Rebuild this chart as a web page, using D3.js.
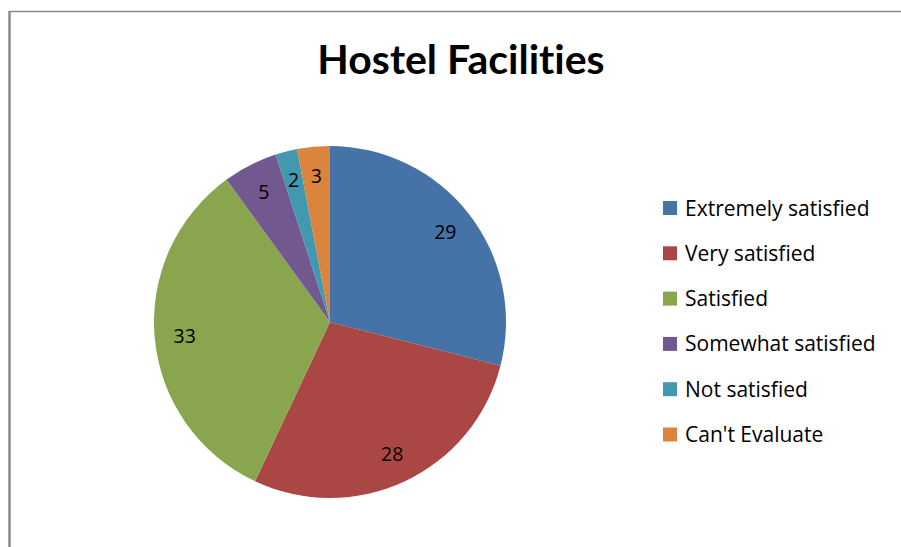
<!DOCTYPE html>
<html>
<head>
<meta charset="utf-8">
<script src="https://cdn.jsdelivr.net/npm/d3@7"></script>
<style>
  body { margin: 0; background: #fff; }
  svg { display: block; }
  text { font-variant-ligatures: none; font-feature-settings: "liga" 0, "clig" 0; }
</style>
</head>
<body>
<div id="chart"></div>
<script>
// data
var categories = ["Extremely satisfied", "Very satisfied", "Satisfied", "Somewhat satisfied", "Not satisfied", "Can't Evaluate"];
var values = [29, 28, 33, 5, 2, 3];
var colors = ["#4572A7", "#AA4643", "#89A54E", "#71588F", "#4198AF", "#DB843D"];
var title = "Hostel Facilities";

var W = 901, H = 547;
var cx = 330, cy = 322, r = 176;

var svg = d3.select("#chart").append("svg")
    .attr("width", W)
    .attr("height", H);

// frame (only top and left edges visible in the crop)
svg.append("line")
    .attr("x1", 9).attr("y1", 11.5).attr("x2", W).attr("y2", 11.5)
    .attr("stroke", "#8a8a8a").attr("stroke-width", 1.5);
svg.append("line")
    .attr("x1", 9.5).attr("y1", 11).attr("x2", 9.5).attr("y2", H)
    .attr("stroke", "#8a8a8a").attr("stroke-width", 2.5);

svg.append("text")
    .attr("x", 461)
    .attr("y", 74)
    .attr("text-anchor", "middle")
    .style("font-family", "Lato, 'Open Sans', sans-serif")
    .style("font-weight", "bold")
    .style("font-size", "41px")
    .attr("fill", "#000")
    .text(title);

var pie = d3.pie().sort(null).value(function (d) { return d; });
var arc = d3.arc().innerRadius(0).outerRadius(r);
var labelArc = d3.arc().innerRadius(146).outerRadius(146);

var g = svg.append("g")
    .attr("transform", "translate(" + cx + " " + cy + ")");

var arcs = pie(values);

g.selectAll("path")
    .data(arcs).enter()
    .append("path")
    .attr("d", arc)
    .attr("fill", function (d, i) { return colors[i]; });

g.selectAll("text")
    .data(arcs).enter()
    .append("text")
    .attr("transform", function (d) { return "translate(" + labelArc.centroid(d) + ")"; })
    .attr("text-anchor", "middle")
    .attr("dy", "0.35em")
    .style("font-family", "'Open Sans', sans-serif")
    .style("font-size", "19.5px")
    .attr("fill", "#000")
    .text(function (d) { return d.data; });

// legend
var legend = svg.append("g")
    .attr("class", "legend")
    .attr("transform", "translate(663 208)");
categories.forEach(function (c, i) {
    legend.append("rect")
        .attr("x", 0)
        .attr("y", i * 45.3 - 7)
        .attr("width", 14)
        .attr("height", 14)
        .attr("fill", colors[i]);
    legend.append("text")
        .attr("x", 22)
        .attr("y", i * 45.3)
        .attr("dy", "0.36em")
        .style("font-family", "'Open Sans', sans-serif")
        .style("font-size", "21px")
        .attr("fill", "#000")
        .text(c);
});
</script>
</body>
</html>
